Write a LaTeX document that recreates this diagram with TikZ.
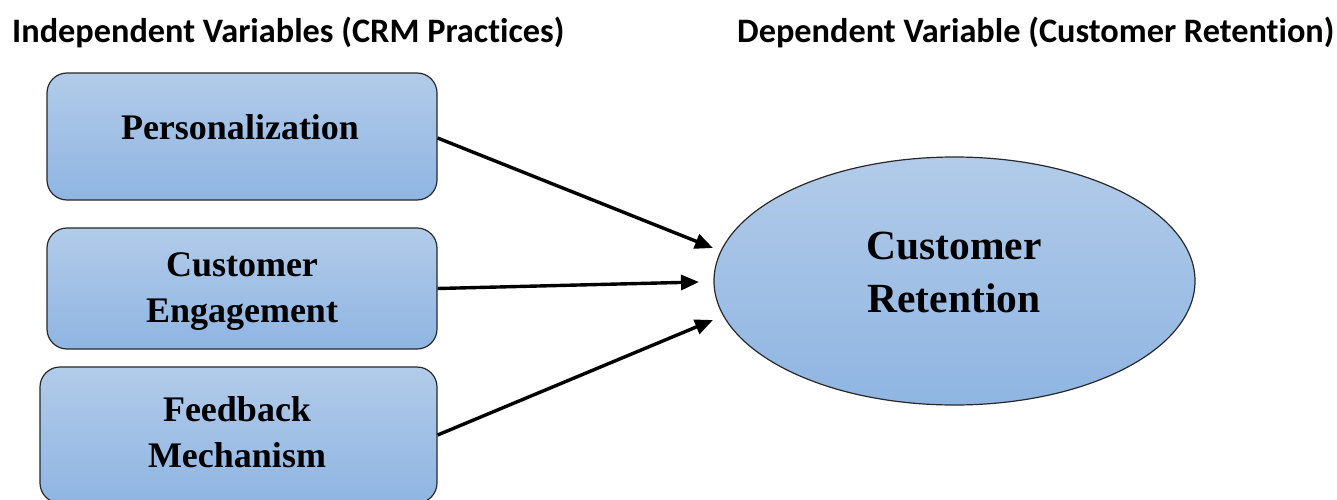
\documentclass[tikz,border=0pt]{standalone}
\usepackage{fontspec}
\setmainfont{Liberation Serif}
\newfontfamily\hdfont[Ligatures=NoCommon]{Carlito}
\usetikzlibrary{shapes.geometric,arrows.meta}
\definecolor{boxtop}{RGB}{178,203,233}
\definecolor{boxbot}{RGB}{143,181,226}
\definecolor{edge}{RGB}{40,40,40}
\tikzset{
  varbox/.style={draw=edge, line width=1.2pt, rounded corners=20pt, top color=boxtop, bottom color=boxbot, inner sep=0pt},
  boxtext/.style={font=\bfseries\fontsize{36}{46}\selectfont, align=center, inner sep=0pt},
  heading/.style={font=\hdfont\bfseries\fontsize{34.3}{40}\selectfont, inner sep=0pt, anchor=base west},
  link/.style={line width=3.4pt, -{Triangle[length=18pt,width=15pt]}}
}
\begin{document}
\begin{tikzpicture}[x=1pt,y=-1pt]
\useasboundingbox (0,0) rectangle (1337,500);
\clip (0,0) rectangle (1337,500);
\node[heading] (h1) at (12,43) {Independent Variables (CRM Practices)};
\node[heading] (h2) at (737,43) {Dependent Variable (Customer Retention)};
\node[varbox, minimum width=390pt, minimum height=127pt] (b1) at (242,136.5) {};
\node[varbox, minimum width=390pt, minimum height=121pt] (b2) at (242,288.5) {};
\node[varbox, minimum width=397pt, minimum height=136pt] (b3) at (238.5,435) {};
\node[boxtext] (t1) at (240,127) {Personalization};
\node[boxtext] (t2) at (242,292) {Customer\\Engagement};
\node[boxtext] (t3) at (237,432) {Feedback\\Mechanism};
\node[ellipse, draw=edge, line width=1.2pt, top color=boxtop, bottom color=boxbot, minimum width=481pt, minimum height=248pt, inner sep=0pt] (ret) at (954.5,281) {};
\node[font=\bfseries\fontsize{41.5}{53}\selectfont, align=center, inner sep=0pt] (rt) at (954,272) {Customer\\Retention};
\coordinate (e1) at (713,248);
\coordinate (e2) at (699,282);
\coordinate (e3) at (713,320);
\draw[link] (b1.east) ++(0,1.5) -- (e1);
\draw[link] (b2.east) -- (e2);
\draw[link] (b3.east) -- (e3);
\end{tikzpicture}
\end{document}
